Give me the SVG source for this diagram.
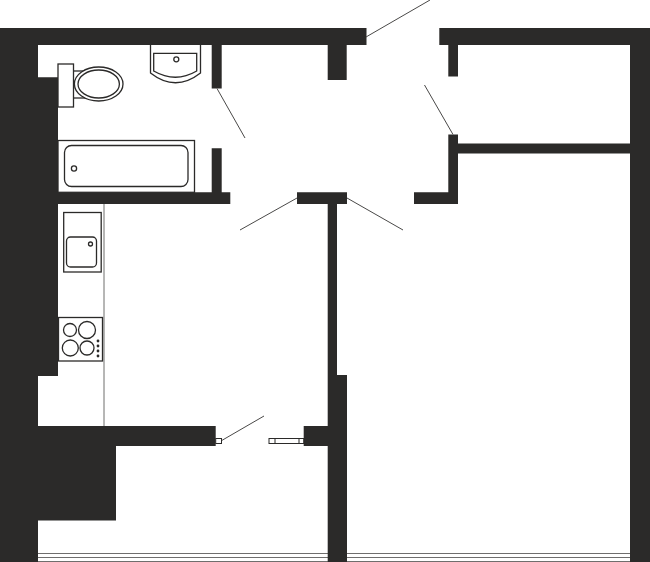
<svg xmlns="http://www.w3.org/2000/svg" width="650" height="562" viewBox="0 0 650 562">
<style>
.wall{fill:#2b2a29;stroke:none}
.fx{fill:#fff;stroke:#2b2a29;stroke-width:1.3}
.door{fill:none;stroke:#4a4948;stroke-width:1}
.thin{fill:none;stroke:#6f6e6d;stroke-width:1}
.dot{fill:#2b2a29;stroke:none}
</style>
<rect width="650" height="562" fill="#fff"/>
<g id="glazing">
<path class="thin" d="M38 553.5H630M38 557.5H630M38 561.5H630"/>
</g>
<g id="walls">
<path class="wall" d="M0 28H366.5V45H346.7V80H327.7V45H221.7V88.5H211.7V45H38V77.3H58V192.3H211.7V148.3H221.7V192.3H230.3V204H58V376H38V426H215.7V446H116V520.5H38V562H0Z"/>
<path class="wall" d="M439.3 28H650V562H630V153.5H458V204H414V192.3H448.3V134.5H458V143.5H630V45H458V76.5H448.3V45H439.3Z"/>
<path class="wall" d="M297 192.3H347V204H337V375H347V562H327.7V446H303.7V426H327.7V204H297Z"/>
</g>
<g id="connectors">
<path class="door" d="M366 37L430 0M424.5 85L453 134.5M347 198L403 230M297 198L240 230M217 88.5L245 138M220 441.5L264 416"/>
<path class="thin" d="M104 204V426"/>
</g>
<g id="door-frames">
<rect class="fx" x="215.7" y="438.5" width="5.8" height="5" style="stroke-width:1"/>
<rect class="fx" x="269" y="438.5" width="34.7" height="5" style="stroke-width:1"/>
<path class="fx" d="M275 438.5V443.5M299 438.5V443.5" style="stroke-width:1"/>
</g>
<g id="toilet">
<rect class="fx" x="73" y="71" width="14" height="27"/>
<rect class="fx" x="58" y="64" width="15.5" height="43"/>
<ellipse class="fx" cx="98.7" cy="84" rx="24.3" ry="17"/>
<ellipse class="fx" cx="98.7" cy="84" rx="20.7" ry="14"/>
</g>
<g id="washbasin">
<path class="fx" d="M150.5 45V73Q175.5 92.5 200.5 73V45"/>
<path class="fx" d="M153.7 53.3H196.7V71Q175.5 83.5 153.7 71Z"/>
<circle class="fx" cx="176.3" cy="59.3" r="2.5"/>
</g>
<g id="bathtub">
<rect class="fx" x="58" y="140.5" width="136.5" height="51.8"/>
<rect class="fx" x="64.5" y="145.5" width="123.5" height="41" rx="7"/>
<circle class="fx" cx="74" cy="168.5" r="2.6"/>
</g>
<g id="kitchen-sink">
<rect class="fx" x="63.7" y="212.5" width="37.5" height="59.5"/>
<rect class="fx" x="66.5" y="237" width="30" height="30" rx="4"/>
<circle class="fx" cx="90.5" cy="244" r="2"/>
</g>
<g id="hob">
<rect class="fx" x="58.5" y="317.5" width="44" height="43.5"/>
<circle class="fx" cx="70" cy="330" r="6.5"/>
<circle class="fx" cx="87" cy="330" r="8.5"/>
<circle class="fx" cx="70.3" cy="348" r="8"/>
<circle class="fx" cx="87" cy="348" r="7"/>
<circle class="dot" cx="98" cy="341" r="1.4"/>
<circle class="dot" cx="98" cy="346" r="1.4"/>
<circle class="dot" cx="98" cy="351" r="1.4"/>
<circle class="dot" cx="98" cy="356" r="1.4"/>
</g>
</svg>
